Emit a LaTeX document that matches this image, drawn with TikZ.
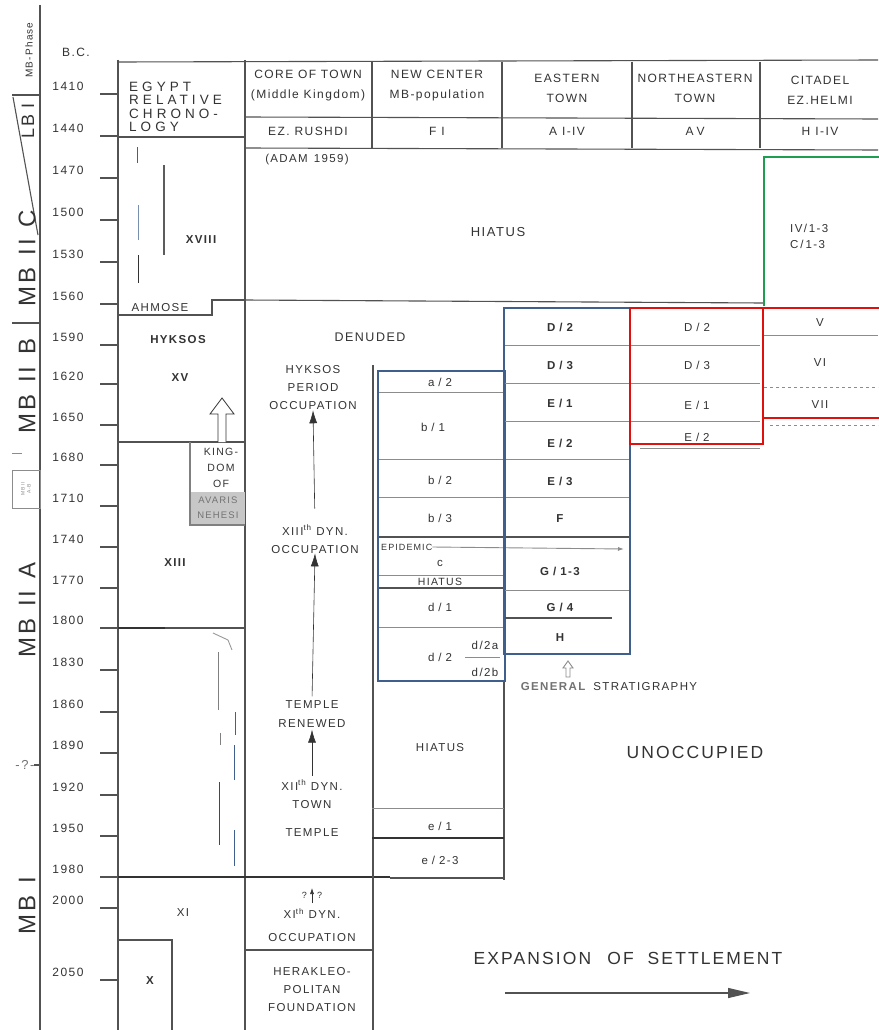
\documentclass[tikz,border=0pt]{standalone}
\usepackage{fontspec}
\setmainfont{Liberation Sans}[LetterSpace=12]
\newfontfamily\widefont{Liberation Sans}[LetterSpace=30]
\usetikzlibrary{arrows.meta,positioning}

\definecolor{boxblue}{HTML}{3F5F8C}
\definecolor{boxred}{HTML}{E0100F}
\definecolor{boxgreen}{HTML}{1E9E50}
\definecolor{ink}{HTML}{333333}
\newcommand{\slsep}{\hspace{4pt}/\hspace{4pt}}

\begin{document}
\begin{tikzpicture}[x=1pt,y=-1pt,
  txt/.style={font=\fontsize{11.5}{18}\selectfont,text=ink,inner sep=0pt,align=center},
  bold/.style={txt,font=\fontsize{11.5}{13}\selectfont\bfseries},
  yr/.style={font=\fontsize{12}{12}\selectfont,text=ink,inner sep=0pt},
  phase/.style={font=\fontsize{24}{24}\selectfont,text=ink,inner sep=0pt,rotate=90},
  rule/.style={draw=ink!85,line width=1.1pt},
  heavy/.style={draw=ink,line width=1.8pt},
  faint/.style={draw=black!45,line width=0.9pt},
  reign/.style={draw=ink!80,line width=0.9pt},
  bluebox/.style={draw=boxblue,line width=2.8pt},
  redbox/.style={draw=boxred,line width=2.8pt},
  greenbox/.style={draw=boxgreen,line width=2.4pt},
  up/.style={-{Latex[length=13pt,width=8pt]},draw=ink,line width=0.6pt},
]
\useasboundingbox (0,0) rectangle (878,1030);
\fill[white] (0,0) rectangle (878,1030);

% phase and year columns
\draw[rule] (40,5) -- (40,1030);
\draw[rule] (12,95) -- (40,95);
\draw[rule] (13,97) -- (38,235);
\draw[rule] (12,323) -- (40,323);
\draw[faint] (12,453) -- (22,453);
\draw[faint] (12,470) rectangle (40,508);
\draw[rule] (34,765) -- (40,765);
\node[phase,font=\fontsize{10}{10}\selectfont] (mbphase) at (29,50) {MB-Phase};
\node[phase,font=\fontsize{18}{18}\selectfont] (lbi) at (28,121) {LB\hspace{6pt}I};
\node[phase] (mbiic) at (27,258) {MB\hspace{12pt}II\hspace{12pt}C};
\node[phase] (mbiib) at (27,386) {MB\hspace{12pt}II\hspace{12pt}B};
\node[phase,font=\fontsize{5}{6}\selectfont,text=black!45,align=center] (mbiiab) at (26,489) {MB II\\A-B};
\node[phase] (mbiia) at (27,610) {MB\hspace{12pt}II\hspace{12pt}A};
\node[txt,font=\fontsize{13}{13}\selectfont,text=black!55] (unsure) at (25,765) {-?-};
\node[phase] (mbi) at (27,906) {MB\hspace{12pt}I};
\node[yr] (bc) at (76,52) {B.C.};
\foreach \yr/\ty in {1410/94,1440/136,1470/178,1500/220,1530/262,1560/304,
    1590/345,1620/384,1650/425,1680/465,1710/506,1740/547,1770/588,1800/628,
    1830/670,1860/712,1890/753,1920/795,1950/836,1980/877,2000/908,2050/980}{
  \node[yr] (y\yr) at (68,{\ty-8}) {\yr};
  \draw[rule] (100,\ty) -- (118,\ty);
}

% frame and header
\draw[rule] (118,60) -- (118,1030);
\draw[rule] (245,60) -- (245,1030);
\draw[rule] (118,62) -- (878,60);
\draw[rule] (245,117) -- (878,119);
\draw[rule] (245,148) -- (878,150);
\draw[rule] (118,137) -- (245,137);
\foreach \x in {372,502,632,760} \draw[rule] (\x,62) -- (\x,148);
\node[txt,font=\widefont\fontsize{13.5}{13.5}\selectfont,anchor=west,align=left] (egypt) at (129,107) {EGYPT\\RELATIVE\\CHRONO-\\LOGY};
\node[txt,font=\fontsize{12}{20}\selectfont] (core) at (308,86) {CORE OF TOWN\\(Middle Kingdom)};
\node[txt,font=\fontsize{12}{20}\selectfont] (newc) at (437,86) {NEW CENTER\\MB-population};
\node[txt,font=\fontsize{12}{20}\selectfont] (east) at (567,88) {EASTERN\\TOWN};
\node[txt,font=\fontsize{12}{20}\selectfont] (neast) at (695,88) {NORTHEASTERN\\TOWN};
\node[txt,font=\fontsize{12}{20}\selectfont] (citadel) at (820,90) {CITADEL\\EZ.HELMI};
\node[txt,font=\fontsize{12}{13}\selectfont] (rushdi) at (308,131) {EZ. RUSHDI};
\node[txt,font=\fontsize{12}{13}\selectfont] (fi) at (437,131) {F\hspace{5pt}I};
\node[txt,font=\fontsize{12}{13}\selectfont] (aiiv) at (567,131) {A\hspace{5pt}I-IV};
\node[txt,font=\fontsize{12}{13}\selectfont] (av) at (695,131) {A\hspace{3pt}V};
\node[txt,font=\fontsize{12}{13}\selectfont] (hiiv) at (820,131) {H\hspace{5pt}I-IV};

% egyptian chronology
\node[bold] (xviii) at (201,240) {XVIII};
\draw[reign] (137,147) -- (137,163);
\draw[reign,line width=1.8pt] (164,165) -- (164,255);
\draw[reign,draw=boxblue!70] (138,205) -- (138,240);
\draw[reign,draw=ink] (138,255) -- (138,283);
\draw[rule] (118,315) -- (212,315) -- (212,300) -- (245,300);
\node[txt] (ahmose) at (160,308) {AHMOSE};
\node[bold] (hyksos) at (178,340) {HYKSOS};
\node[bold] (xv) at (180,378) {XV};
\draw[rule] (118,442) -- (245,442);
\draw[ink,line width=0.8pt,fill=white] (218,442) -- (218,414) -- (210,414) -- (222,398)
  -- (234,414) -- (226,414) -- (226,442);
\fill[black!22] (191,492) rectangle (245,524);
\draw[draw=black!50,line width=1.2pt] (190,442) -- (190,525) -- (245,525);
\node[bold,font=\fontsize{10.5}{16}\selectfont] (kingdom) at (221,468) {KING-\\DOM\\OF};
\node[bold,font=\fontsize{9.5}{15}\selectfont,text=black!55] (avaris) at (218,508) {AVARIS\\NEHESI};
\node[bold] (xiii) at (175,563) {XIII};
\draw[heavy] (118,628) -- (165,628);
\draw[rule] (165,628) -- (245,628);
\draw[reign,draw=black!40] (213,633) -- (228,640) -- (232,650);
\draw[reign,draw=black!50] (218,652) -- (218,710);
\draw[reign] (235,712) -- (235,735);
\draw[reign,draw=black!50] (220,733) -- (220,745);
\draw[reign,draw=boxblue] (234,745) -- (234,780);
\draw[reign,draw=boxblue!80!black] (219,782) -- (219,845);
\draw[reign,draw=boxblue] (234,830) -- (234,866);
\draw[heavy] (118,877) -- (390,877);
\draw[rule] (390,878) -- (505,878);
\node[txt] (xi) at (183,913) {XI};
\draw[rule] (118,940) -- (172,940) -- (172,1030);
\node[bold] (x) at (150,981) {X};

% core of town
\node[txt] (adam) at (307,160) {(ADAM\hspace{6pt}1959)};
\node[txt,font=\fontsize{13}{13}\selectfont] (hiatustop) at (498,232) {HIATUS};
\draw[rule] (245,300) -- (763,303);
\node[txt,font=\fontsize{12.5}{13}\selectfont] (denuded) at (370,337) {DENUDED};
\node[txt] (hyk) at (313,388) {HYKSOS\\PERIOD\\OCCUPATION};
\node[txt] (xiiidyn) at (315,539) {XIII\textsuperscript{th} DYN.\\OCCUPATION};
\node[txt,font=\fontsize{11.5}{19}\selectfont] (renewed) at (312,714) {TEMPLE\\RENEWED};
\node[txt] (xiidyn) at (312,794) {XII\textsuperscript{th} DYN.\\TOWN};
\node[txt] (temple) at (312,833) {TEMPLE};
\node[txt,font=\fontsize{9}{9}\selectfont] (query) at (312,895) {?\hspace{10pt}?};
\node[txt,font=\fontsize{11.5}{23}\selectfont] (xidyn) at (312,925) {XI\textsuperscript{th} DYN.\\OCCUPATION};
\draw[rule] (245,950) -- (373,950);
\node[txt] (herak) at (312,990) {HERAKLEO-\\POLITAN\\FOUNDATION};
\draw[up,shorten <=16pt] (xiiidyn.north) -- (hyk.south);
\draw[up,shorten <=4pt] (renewed.north) -- (xiiidyn.south);
\draw[up,shorten <=4pt,shorten >=2pt] (xiidyn.north) -- (renewed.south);
\draw[up,-{Latex[length=6pt,width=4pt]}] ([yshift=-8pt]query.center) -- ([yshift=7pt]query.center);

% new center
\draw[rule] (373,365) -- (373,1030);
\draw[rule] (504,681) -- (504,880);
\draw[faint] (372,808) -- (504,808);
\draw[heavy] (372,838) -- (504,838);
\node[txt] (hiatusnc) at (440,748) {HIATUS};
\node[txt] (e1) at (440,826) {e\slsep 1};
\node[txt] (e23) at (440,860) {e\slsep 2-3};
\draw[faint] (378,392) -- (503,392);
\draw[faint] (378,459) -- (630,459);
\draw[faint] (378,497) -- (630,497);
\draw[rule] (378,537) -- (630,537);
\draw[faint] (378,575) -- (503,575);
\draw[rule] (378,588) -- (503,588);
\draw[faint] (378,627) -- (503,627);
\draw[faint] (465,657) -- (500,657);
\node[txt] (a2) at (440,382) {a\slsep 2};
\node[txt] (b1) at (433,427) {b\slsep 1};
\node[txt] (b2) at (440,480) {b\slsep 2};
\node[txt] (b3) at (440,518) {b\slsep 3};
\node[txt,font=\fontsize{9}{9}\selectfont,anchor=west] (epidemic) at (381,547) {EPIDEMIC};
\coordinate (epidemicend) at (624,549);
\draw[faint,-{Latex[length=6pt,width=4pt]}] (epidemic.east) -- (epidemicend);
\node[txt] (c) at (440,563) {c};
\node[txt,font=\fontsize{10.5}{10}\selectfont] (hiatusc) at (440,582) {HIATUS};
\node[txt] (d1) at (440,607) {d\slsep 1};
\node[txt] (d2) at (440,657) {d\slsep 2};
\node[txt] (d2a) at (485,645) {d/2a};
\node[txt] (d2b) at (485,672) {d/2b};
\draw[bluebox] (378,371) rectangle (505,681);

% eastern and northeastern town
\draw[faint] (503,345) -- (760,345);
\draw[faint] (503,383) -- (760,383);
\draw[faint] (503,421) -- (760,421);
\draw[faint] (503,590) -- (630,590);
\draw[rule] (503,618) -- (612,618);
\draw[faint] (640,448) -- (760,448);
\node[bold] (ed2) at (560,327) {D\slsep 2};
\node[bold] (ed3) at (560,365) {D\slsep 3};
\node[bold] (ee1) at (560,403) {E\slsep 1};
\node[bold] (ee2) at (560,443) {E\slsep 2};
\node[bold] (ee3) at (560,481) {E\slsep 3};
\node[bold] (ef) at (560,519) {F};
\node[bold] (eg13) at (560,571) {G\slsep 1-3};
\node[bold] (eg4) at (560,607) {G\slsep 4};
\node[bold] (eh) at (560,638) {H};
\draw[bluebox] (504,308) rectangle (630,654);
\node[txt] (nd2) at (697,327) {D\slsep 2};
\node[txt] (nd3) at (697,365) {D\slsep 3};
\node[txt] (ne1) at (697,405) {E\slsep 1};
\node[txt] (ne2) at (697,437) {E\slsep 2};
\draw[redbox] (630,308) rectangle (763,444);

% citadel
\node[txt,font=\fontsize{11.5}{16}\selectfont,anchor=west,align=left] (ivc) at (790,236) {IV/\,1-3\\C\,/\,1-3};
\draw[greenbox] (764,306) -- (764,157) -- (884,157);
\draw[faint] (764,335) -- (878,335);
\draw[faint,dashed] (764,387) -- (878,387);
\draw[faint,dashed] (770,425) -- (878,425);
\node[txt] (cv) at (820,323) {V};
\node[txt] (cvi) at (820,363) {VI};
\node[txt] (cvii) at (820,405) {VII};
\draw[redbox] (763,308) rectangle (884,418);

% legend
\draw[faint,fill=white] (568,661) -- (573,668) -- (570,668) -- (570,677) -- (566,677)
  -- (566,668) -- (563,668) -- cycle;
\node[txt,font=\fontsize{11.5}{10}\selectfont] (general) at (609,687) {\textcolor{black!55}{\bfseries GENERAL}\hspace{8pt}STRATIGRAPHY};
\node[txt,font=\fontsize{17.5}{18}\selectfont] (unocc) at (695,752) {UNOCCUPIED};
\node[txt,font=\fontsize{17.5}{18}\selectfont] (expansion) at (628,958) {EXPANSION\hspace{16pt}OF\hspace{14pt}SETTLEMENT};
\coordinate (expstart) at (505,993);
\coordinate (expend) at (750,993);
\draw[draw=ink!85,line width=1.2pt,-{Triangle[length=22pt,width=10pt]}] (expstart) -- (expend);
\end{tikzpicture}
\end{document}
